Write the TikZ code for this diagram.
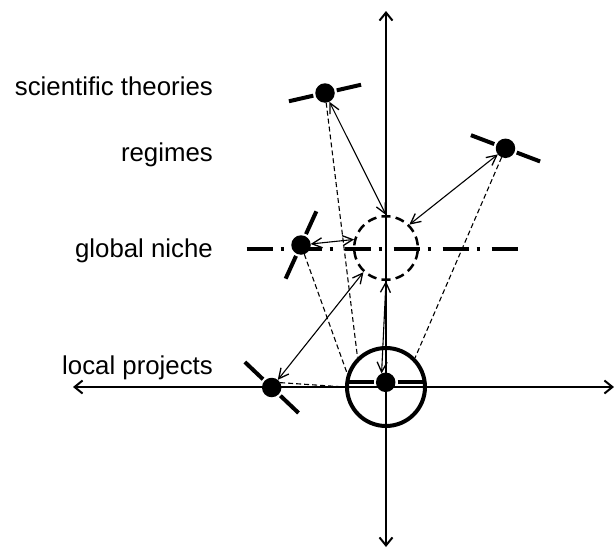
\documentclass[tikz,border=0pt]{standalone}
\usepackage{fontspec}
\setmainfont{Liberation Sans}
\usetikzlibrary{arrows.meta,calc}
\begin{document}
\begin{tikzpicture}[x=1pt,y=-1pt,
  axis/.style={line width=1.5pt,{Straight Barb[length=8pt,width=13pt,line width=2pt]}-{Straight Barb[length=8pt,width=13pt,line width=2pt]}},
  dotnode/.style={circle,fill=black,minimum size=19.5pt,inner sep=0pt,outer sep=0pt},
  bar/.style={line width=4pt},
  link/.style={line width=1.1pt,{Straight Barb[length=10pt,width=10pt,line width=1.3pt]}-{Straight Barb[length=10pt,width=10pt,line width=1.3pt]}},
  guide/.style={line width=1.1pt,dash pattern=on 5pt off 3pt},
  lbl/.style={anchor=base east,inner sep=0pt,font=\fontsize{25.8}{30}\selectfont}
]
\useasboundingbox (0,0) rectangle (614,549);
% axes
\coordinate (L) at (73,387);
\coordinate (R) at (614,387);
\coordinate (T) at (386,11);
\coordinate (B) at (386,547);
\draw[axis] (L) -- (R);
\draw[axis] (T) -- (B);
% dash-dot line
\coordinate (dl) at (246.7,249);
\coordinate (dr) at (517.7,249);
\draw[line width=3.5pt,dash pattern=on 26pt off 8pt on 3pt off 12pt] (dl) -- (dr);
% circles
\node[circle,draw,line width=4pt,minimum size=78pt,inner sep=0pt] (proj) at (386,387) {};
\node[circle,draw,line width=2.5pt,dash pattern=on 9pt off 5.27pt,dash phase=11.64pt,minimum size=63.6pt,inner sep=0pt] (niche) at (386,248) {};
% dots
\node[dotnode] (th) at (325,93) {};
\node[dotnode] (reg) at (505.5,148.3) {};
\node[dotnode] (nd) at (301,245) {};
\node[dotnode] (loc) at (271.7,387.5) {};
\node[dotnode] (cd) at (385.7,382.3) {};
% bars
\foreach \n/\a in {th/-12.9,reg/20.8,nd/114.5,loc/43.5,cd/0}{
  \draw[bar] ($(\n)+(\a:12)$) -- ($(\n)+(\a:37)$);
  \draw[bar] ($(\n)+(\a+180:12)$) -- ($(\n)+(\a+180:37)$);
}
% guides
\draw[guide] (th) -- (proj.134);
\draw[guide] (nd) -- (proj.161);
\draw[guide] (reg) -- (proj.45);
\draw[guide] (loc.30) -- (proj.west);
% links
\draw[link] (th) -- (niche.north);
\draw[link] (reg) -- (niche.45);
\draw[link] (nd) -- (niche.165);
\draw[link] (loc) -- (niche.227);
\draw[link] (cd.115) -- (niche.south);
% labels
\node[lbl] (t1) at (213,95.7) {scientific theories};
\node[lbl] (t2) at (213,161.7) {regimes};
\node[lbl] (t3) at (213,257.3) {global niche};
\node[lbl] (t4) at (213,374) {local projects};
\end{tikzpicture}
\end{document}
